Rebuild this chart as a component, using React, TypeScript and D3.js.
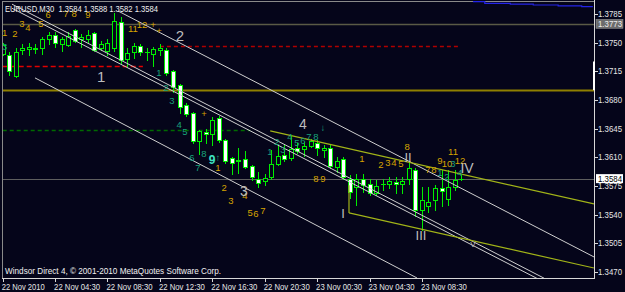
import React from "react";
import * as d3 from "d3";

// ---- candle data (EURUSD M30), bar index 0..70 ----
const opens = [1.3736,1.3735,1.3709,1.3741,1.3742,1.3742,1.3743,1.3754,1.3759,1.3748,1.3747,1.3765,1.3755,1.3754,1.3762,1.3744,1.3740,1.3743,1.3775,1.3730,1.3738,1.3746,1.3739,1.3736,1.3741,1.3741,1.3715,1.3698,1.3674,1.3664,1.3630,1.3641,1.3639,1.3658,1.3631,1.3609,1.3607,1.3608,1.3599,1.3584,1.3581,1.3586,1.3602,1.3613,1.3609,1.3622,1.3620,1.3624,1.3628,1.3619,1.3621,1.3598,1.3608,1.3584,1.3574,1.3583,1.3578,1.3566,1.3577,1.3578,1.3580,1.3577,1.3584,1.3595,1.3546,1.3551,1.3558,1.3572,1.3559,1.3574,1.3584];
const highs = [1.3749,1.3739,1.3743,1.3748,1.3750,1.3748,1.3757,1.3763,1.3763,1.3757,1.3763,1.3767,1.3760,1.3765,1.3763,1.3752,1.3755,1.3786,1.3781,1.3743,1.3749,1.3748,1.3744,1.3745,1.3748,1.3743,1.3717,1.3700,1.3676,1.3665,1.3643,1.3645,1.3659,1.3660,1.3632,1.3610,1.3621,1.3618,1.3601,1.3592,1.3590,1.3619,1.3625,1.3625,1.3637,1.3628,1.3629,1.3632,1.3631,1.3625,1.3625,1.3611,1.3611,1.3588,1.3590,1.3590,1.3584,1.3582,1.3584,1.3586,1.3586,1.3586,1.3605,1.3597,1.3574,1.3574,1.3576,1.3595,1.3595,1.3595,1.3588];
const lows = [1.3735,1.3711,1.3708,1.3736,1.3735,1.3737,1.3736,1.3748,1.3745,1.3740,1.3746,1.3751,1.3745,1.3751,1.3740,1.3741,1.3735,1.3740,1.3725,1.3721,1.3731,1.3735,1.3729,1.3721,1.3735,1.3711,1.3690,1.3664,1.3660,1.3627,1.3614,1.3627,1.3625,1.3629,1.3603,1.3590,1.3591,1.3597,1.3582,1.3574,1.3576,1.3583,1.3601,1.3605,1.3607,1.3615,1.3612,1.3623,1.3613,1.3611,1.3597,1.3592,1.3584,1.3560,1.3552,1.3568,1.3564,1.3564,1.3570,1.3572,1.3566,1.3566,1.3578,1.3538,1.3521,1.3543,1.3546,1.3550,1.3552,1.3570,1.3582];
const closes = [1.3747,1.3715,1.3739,1.3744,1.3745,1.3744,1.3754,1.3759,1.3749,1.3754,1.3758,1.3752,1.3757,1.3759,1.3741,1.3748,1.3750,1.3776,1.3729,1.3737,1.3746,1.3738,1.3738,1.3742,1.3743,1.3713,1.3696,1.3672,1.3663,1.3630,1.3642,1.3638,1.3656,1.3631,1.3605,1.3603,1.3606,1.3598,1.3586,1.3579,1.3585,1.3602,1.3612,1.3608,1.3620,1.3618,1.3624,1.3630,1.3621,1.3621,1.3599,1.3605,1.3586,1.3568,1.3583,1.3576,1.3566,1.3575,1.3578,1.3581,1.3577,1.3581,1.3597,1.3546,1.3558,1.3555,1.3573,1.3569,1.3574,1.3582,1.3584];

// ---- axes ----
const yTicks = [1.3785,1.3750,1.3715,1.3680,1.3645,1.3610,1.3575,1.3540,1.3505,1.3470];
const xTickIdx = [0,8,16,24,32,40,48,56,64];
const xTickLabels = ["22 Nov 2010","22 Nov 04:30","22 Nov 08:30","22 Nov 12:30","22 Nov 16:30","22 Nov 20:30","23 Nov 00:30","23 Nov 04:30","23 Nov 08:30"];

// ---- horizontal levels: [price, fromIdx, toIdx] ----
const levelPrices = [1.3773, 1.3746, 1.3722, 1.3692, 1.3643, 1.3584];
const levelFrom = [0, 24, 0, 0, 0, 0];
const levelTo = [90.3, 69.5, 21.4, 90.3, 37.8, 90.3];
const levelColors = ["#5a5a46", "#b00000", "#e00000", "#8f8000", "#006a00", "#5e5e5e"];
const levelDash = ["", "4,3", "5,3", "", "4,3", ""];
const levelWidth = [1.5, 1.5, 1.5, 2, 1.5, 1];

// ---- trend lines: [idx1, price1, idx2, price2] ----
const whiteLines = [
  [1.42, 1.3797, 82.64, 1.34625],
  [1.42, 1.3792, 81.73, 1.34615],
  [4.93, 1.3707, 63.25, 1.34627],
  [17.6, 1.37887, 90.27, 1.34884],
];
const greenLines = [
  [40.84, 1.36422, 90.27, 1.35531],
  [52.87, 1.35421, 90.27, 1.34749],
  [52.87, 1.3576, 52.87, 1.35421],
];
const blueStepIdx = [71.8, 73.6, 77.5, 81, 84.8, 88.4, 90.1];
const blueStepPrice = [1.3800, 1.3798, 1.3797, 1.3796, 1.3795, 1.3794];

// ---- wave labels ----
const goldText = ["1","2","3","4","5","6","7","8","9","11","12","+","+","+","1","2","3","4","5","6","7","8","9","1","2","3","4","5","8","7","8","9","10","11","12"];
const goldIdx = [0.3,1.88,2.95,3.86,5.85,6.92,9.66,10.89,13.02,19.89,21.27,22.95,23.86,30.73,32.87,33.79,34.85,36.99,37.76,38.67,39.74,47.83,48.9,54.85,57.75,58.8,59.74,60.81,61.73,64.93,65.85,66.76,67.83,68.75,69.82];
const goldPrice = [1.3762,1.3761,1.3774,1.3769,1.3774,1.3784,1.3786,1.3786,1.3785,1.3767,1.3772,1.3772,1.3765,1.3664,1.3598,1.3573,1.3557,1.3563,1.3543,1.3542,1.3545,1.3584,1.3584,1.3609,1.3601,1.3604,1.3604,1.3603,1.3623,1.3595,1.3595,1.3606,1.3603,1.3617,1.3606];

const tealText = ["3","1","2","3","4","5","6","7","8","↑","1","2","3","4","5","6","7","8","↓","1","2","3","4"];
const tealIdx = [0.3,23.86,24.93,25.85,26.92,27.83,28.9,29.82,30.73,32.87,40.81,41.88,42.79,43.86,44.93,45.85,46.76,47.83,48.9,66.76,67.83,68.75,69.82];
const tealPrice = [1.3745,1.3714,1.3695,1.3679,1.3650,1.3642,1.3610,1.3598,1.3615,1.3610,1.3617,1.3629,1.3619,1.3635,1.3628,1.3631,1.3635,1.3635,1.3647,1.3592,1.3587,1.3603,1.3592];
const brightText = ["9"];
const brightIdx = [31.95];
const brightPrice = [1.3607];

const waveText = ["1","2","3","4","I","II","III","IV","V"];
const waveIdx = [15.02,27.07,36.84,45.85,51.95,61.88,63.86,70.89,71.8];
const wavePrice = [1.3709,1.3759,1.3569,1.3651,1.3542,1.3610,1.3515,1.3597,1.3504];
const waveSize = [15,15,14,14,13,13,13,14,8];

const headerText = "EURUSD,M30  1.3584 1.3588 1.3582 1.3584";
const footerText = "Windsor Direct 4, © 2001-2010 MetaQuotes Software Corp.";
const lastPrice = 1.3584;
const markPrice = 1.3773;

const BG = "#05051a";
const LIME = "#00ee00";
const FONT = "'Liberation Sans', Arial, sans-serif";

export default function App() {
  const W = 625, H = 292;
  const plotL = 3, plotR = 594, plotT = 2, plotB = 278;
  const x = d3.scaleLinear().domain([0, 70]).range([2.7, 461.2]);
  const y = d3.scaleLinear().domain([1.3470, 1.3785]).range([272, 14]);

  const candles = opens.map((o, i) => {
    const c = closes[i], h = highs[i], l = lows[i];
    const cx = Math.round(x(i));
    const yt = Math.round(y(Math.max(o, c)));
    const yb = Math.round(y(Math.min(o, c)));
    const yh = Math.round(y(h)), yl = Math.round(y(l));
    const bear = c < o;
    return (
      <g key={i}>
        <line x1={cx + 0.5} x2={cx + 0.5} y1={yh} y2={yl + 1} stroke={LIME} strokeWidth={1} />
        {yb - yt >= 1 ? (
          <rect x={cx - 1.5} y={yt + 0.5} width={4} height={yb - yt} fill={bear ? "#ffffff" : BG} stroke={LIME} strokeWidth={1} />
        ) : (
          <line x1={cx - 2} x2={cx + 3} y1={yt + 0.5} y2={yt + 0.5} stroke={LIME} strokeWidth={1} />
        )}
      </g>
    );
  });

  const lineGen = d3.line<[number, number]>().x(d => x(d[0])).y(d => y(d[1]));
  const bluePts: [number, number][] = [];
  blueStepPrice.forEach((p, i) => {
    bluePts.push([blueStepIdx[i], p]);
    bluePts.push([blueStepIdx[i + 1], p]);
  });

  return (
    <svg width={W} height={H} style={{ position: "absolute", left: 0, top: 0, display: "block" }} fontFamily={FONT}>
      <defs>
        <clipPath id="plot">
          <rect x={plotL} y={plotT} width={plotR - plotL} height={plotB - plotT} />
        </clipPath>
      </defs>
      <rect x={0} y={0} width={W} height={H} fill={BG} />

      <g clipPath="url(#plot)">
        {levelPrices.map((p, i) => (
          <line key={"lv" + i} x1={x(levelFrom[i])} x2={x(levelTo[i])} y1={Math.round(y(p)) + 0.5} y2={Math.round(y(p)) + 0.5}
            stroke={levelColors[i]} strokeWidth={levelWidth[i]} strokeDasharray={levelDash[i] || undefined} />
        ))}
        {candles}
        {whiteLines.map((l, i) => (
          <path key={"wl" + i} d={lineGen([[l[0], l[1]], [l[2], l[3]]]) || ""} stroke="#cfcfcf" strokeWidth={1} fill="none" />
        ))}
        {greenLines.map((l, i) => (
          <path key={"gl" + i} d={lineGen([[l[0], l[1]], [l[2], l[3]]]) || ""} stroke="#a2b418" strokeWidth={1.2} fill="none" />
        ))}
      </g>

      {/* frame */}
      <line x1={2.5} x2={2.5} y1={1} y2={plotB} stroke="#8a8a8a" strokeWidth={1} />
      <line x1={2} x2={plotR} y1={1.5} y2={1.5} stroke="#8a8a8a" strokeWidth={1} />
      <path d={lineGen(bluePts) || ""} stroke="#2424e8" strokeWidth={1.2} fill="none" />
      <line x1={plotR + 0.5} x2={plotR + 0.5} y1={0} y2={plotB + 1} stroke="#d8d8d8" strokeWidth={1} />
      <line x1={2} x2={plotR + 1} y1={plotB + 0.5} y2={plotB + 0.5} stroke="#d8d8d8" strokeWidth={1} />
      <rect x={plotR - 1} y={y(1.3727)} width={2} height={y(1.3692) - y(1.3727)} fill="#ffffff" />

      {/* y axis */}
      {yTicks.map((t, i) => (
        <g key={"yt" + i}>
          <line x1={plotR + 1} x2={plotR + 4} y1={Math.round(y(t)) + 0.5} y2={Math.round(y(t)) + 0.5} stroke="#d8d8d8" />
          <text x={598} y={y(t)} dominantBaseline="central" fontSize={9} fill="#e6e6e6" textLength={24} lengthAdjust="spacingAndGlyphs">
            {d3.format(".4f")(t)}
          </text>
        </g>
      ))}
      <rect x={596} y={y(markPrice) - 4.5} width={27} height={9} fill="#6c6c6c" stroke="#9a9a9a" strokeWidth={0.5} />
      <text x={598} y={y(markPrice)} dominantBaseline="central" fontSize={9} fill="#eeeeee" textLength={24} lengthAdjust="spacingAndGlyphs">
        {d3.format(".4f")(markPrice)}
      </text>
      <rect x={596} y={y(lastPrice) - 4.5} width={27} height={9} fill="#ffffff" />
      <text x={598} y={y(lastPrice)} dominantBaseline="central" fontSize={9} fill="#000000" textLength={24} lengthAdjust="spacingAndGlyphs">
        {d3.format(".4f")(lastPrice)}
      </text>

      {/* x axis */}
      {xTickIdx.map((t, i) => (
        <g key={"xt" + i}>
          <line x1={Math.round(x(t)) + 0.5} x2={Math.round(x(t)) + 0.5} y1={plotB} y2={plotB + 4} stroke="#d8d8d8" />
          <text x={x(t) - 1} y={287} dominantBaseline="central" fontSize={9} fill="#e6e6e6"
            textLength={i === 0 ? 43 : 46} lengthAdjust="spacingAndGlyphs">
            {xTickLabels[i]}
          </text>
        </g>
      ))}

      {/* labels */}
      {goldText.map((t, i) => (
        <text key={"gt" + i} x={x(goldIdx[i])} y={y(goldPrice[i])} textAnchor="middle" dominantBaseline="central" fontSize={9.5} fill="#d6a400">{t}</text>
      ))}
      {tealText.map((t, i) => (
        <text key={"tt" + i} x={x(tealIdx[i])} y={y(tealPrice[i])} textAnchor="middle" dominantBaseline="central" fontSize={9.5} fill="#18a27a">{t}</text>
      ))}
      {brightText.map((t, i) => (
        <text key={"bt" + i} x={x(brightIdx[i])} y={y(brightPrice[i])} textAnchor="middle" dominantBaseline="central" fontSize={12} fontWeight="bold" fill="#3fe3c2">{t}</text>
      ))}
      {waveText.map((t, i) => (
        <text key={"wt" + i} x={x(waveIdx[i])} y={y(wavePrice[i])} textAnchor="middle" dominantBaseline="central" fontSize={waveSize[i]} fill="#bdbdbd">{t}</text>
      ))}

      <text x={5} y={8.5} dominantBaseline="central" fontSize={9} fill="#f0f0f0" textLength={153} lengthAdjust="spacingAndGlyphs" style={{ whiteSpace: "pre" }}>{headerText}</text>
      <text x={5} y={271} dominantBaseline="central" fontSize={9} fill="#f0f0f0" textLength={216} lengthAdjust="spacingAndGlyphs">{footerText}</text>
    </svg>
  );
}
